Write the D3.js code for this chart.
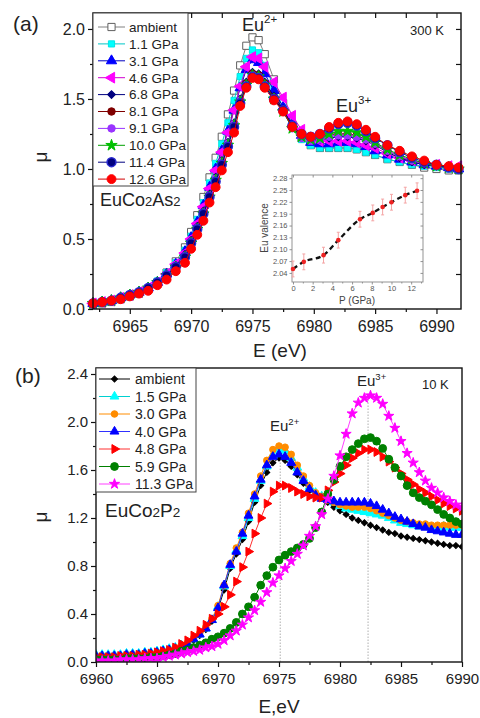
<!DOCTYPE html>
<html><head><meta charset="utf-8">
<script src="https://cdn.jsdelivr.net/npm/d3@7"></script>
<style>body{margin:0;background:#fff}svg{display:block;font-family:Arial,"Liberation Sans",sans-serif}</style>
</head><body><svg id="c" width="480" height="718"></svg>
<script>
// ---------------- Panel (a) data: EuCo2As2, 300 K ----------------
const energyA = [6962,6962.75,6963.5,6964.25,6965,6965.75,6966.5,6967.25,6968,6968.75,6969.5,6970,6970.5,6971,6971.5,6972,6972.5,6973,6973.5,6974,6974.5,6975,6975.5,6976,6976.75,6977.5,6978.25,6979,6979.75,6980.5,6981.25,6982,6982.75,6983.5,6984.25,6985,6986,6987,6988,6989,6990,6991,6991.8];
const muA_amb  = [0.03,0.04,0.05,0.07,0.09,0.11,0.14,0.19,0.26,0.34,0.44,0.55,0.67,0.80,0.94,1.08,1.23,1.39,1.56,1.74,1.88,1.94,1.92,1.82,1.64,1.47,1.32,1.22,1.17,1.15,1.15,1.15,1.15,1.14,1.12,1.10,1.07,1.05,1.03,1.01,1.00,0.99,0.99];
const muA_1p1  = [0.04,0.05,0.06,0.08,0.10,0.12,0.15,0.20,0.26,0.33,0.42,0.52,0.64,0.76,0.90,1.04,1.18,1.33,1.49,1.66,1.79,1.85,1.83,1.74,1.59,1.44,1.30,1.21,1.17,1.15,1.15,1.15,1.15,1.14,1.12,1.10,1.07,1.05,1.03,1.02,1.01,1.00,0.99];
const muA_3p1  = [0.04,0.05,0.06,0.08,0.10,0.12,0.15,0.19,0.25,0.32,0.41,0.51,0.62,0.74,0.87,1.00,1.13,1.27,1.42,1.58,1.71,1.78,1.76,1.68,1.56,1.44,1.32,1.24,1.19,1.18,1.18,1.19,1.19,1.18,1.16,1.13,1.10,1.07,1.05,1.03,1.02,1.01,1.00];
const muA_4p6  = [0.04,0.05,0.06,0.08,0.10,0.12,0.15,0.19,0.25,0.32,0.40,0.50,0.61,0.73,0.86,0.99,1.12,1.26,1.42,1.59,1.73,1.80,1.79,1.73,1.62,1.51,1.38,1.28,1.22,1.20,1.20,1.20,1.20,1.19,1.17,1.15,1.11,1.08,1.06,1.04,1.03,1.02,1.02];
const muA_6p8  = [0.04,0.05,0.06,0.08,0.10,0.12,0.15,0.19,0.24,0.31,0.39,0.49,0.59,0.70,0.82,0.94,1.06,1.19,1.33,1.50,1.62,1.69,1.68,1.62,1.52,1.43,1.30,1.23,1.20,1.21,1.22,1.23,1.23,1.22,1.20,1.17,1.12,1.08,1.05,1.03,1.02,1.01,1.00];
const muA_8p1  = [0.04,0.05,0.06,0.08,0.10,0.12,0.15,0.19,0.24,0.30,0.38,0.48,0.58,0.69,0.81,0.93,1.05,1.18,1.32,1.49,1.61,1.68,1.67,1.61,1.51,1.42,1.30,1.23,1.21,1.22,1.24,1.25,1.25,1.24,1.21,1.18,1.13,1.09,1.06,1.04,1.02,1.01,1.00];
const muA_9p1  = [0.04,0.05,0.06,0.08,0.10,0.12,0.15,0.19,0.24,0.30,0.38,0.48,0.58,0.69,0.81,0.93,1.05,1.18,1.32,1.49,1.60,1.67,1.66,1.60,1.50,1.41,1.29,1.22,1.20,1.21,1.23,1.24,1.24,1.23,1.21,1.18,1.13,1.09,1.06,1.04,1.02,1.01,1.00];
const muA_10p0 = [0.04,0.05,0.06,0.08,0.10,0.12,0.15,0.19,0.24,0.30,0.37,0.47,0.57,0.68,0.80,0.92,1.04,1.17,1.31,1.48,1.60,1.67,1.66,1.60,1.50,1.41,1.29,1.23,1.21,1.22,1.25,1.27,1.27,1.26,1.23,1.19,1.14,1.10,1.07,1.04,1.02,1.01,1.00];
const muA_11p4 = [0.04,0.05,0.06,0.08,0.10,0.12,0.15,0.19,0.24,0.30,0.37,0.47,0.57,0.68,0.80,0.91,1.03,1.16,1.30,1.47,1.59,1.66,1.65,1.59,1.50,1.42,1.31,1.25,1.23,1.25,1.29,1.32,1.33,1.31,1.27,1.22,1.17,1.12,1.08,1.05,1.03,1.01,1.00];
const muA_12p6 = [0.04,0.05,0.06,0.07,0.09,0.11,0.13,0.17,0.21,0.27,0.33,0.43,0.53,0.63,0.76,0.87,0.99,1.12,1.26,1.45,1.58,1.65,1.64,1.58,1.49,1.41,1.30,1.25,1.23,1.25,1.30,1.33,1.34,1.32,1.28,1.23,1.17,1.13,1.09,1.06,1.03,1.02,1.01];
const labelsA = ["ambient","1.1 GPa","3.1 GPa","4.6 GPa","6.8 GPa","8.1 GPa","9.1 GPa","10.0 GPa","11.4 GPa","12.6 GPa"];

// inset: Eu valence vs pressure
const pressure   = [0,1.1,3.1,4.6,6.8,8.1,9.1,10.0,11.4,12.6];
const valence    = [2.050,2.068,2.085,2.123,2.176,2.192,2.207,2.219,2.237,2.248];
const valenceErr = [0.02,0.02,0.02,0.02,0.02,0.02,0.02,0.02,0.02,0.02];

// ---------------- Panel (b) data: EuCo2P2, 10 K ----------------
const energyB = [6960,6960.5,6961,6961.5,6962,6962.5,6963,6963.5,6964,6964.5,6965,6965.5,6966,6966.5,6967,6967.5,6968,6968.5,6969,6969.5,6970,6970.5,6971,6971.5,6972,6972.5,6973,6973.5,6974,6974.5,6975,6975.5,6976,6976.5,6977,6977.5,6978,6978.5,6979,6979.5,6980,6980.5,6981,6981.5,6982,6982.5,6983,6983.5,6984,6984.5,6985,6985.5,6986,6986.5,6987,6987.5,6988,6988.5,6989,6989.5,6990];
const muB_amb  = [0.05,0.05,0.05,0.05,0.05,0.06,0.06,0.06,0.07,0.07, 0.08,0.09,0.10,0.11,0.13,0.15,0.18,0.22,0.27,0.34, 0.44,0.60,0.78,0.90,1.02,1.17,1.33,1.47,1.58,1.66, 1.70,1.68,1.63,1.56,1.49,1.43,1.39,1.37,1.33,1.29, 1.26,1.23,1.20,1.18,1.16,1.14,1.12,1.10,1.08,1.07, 1.05,1.04,1.03,1.02,1.01,1.00,0.99,0.98,0.97,0.97, 0.96];
const muB_1p5  = [0.06,0.06,0.06,0.06,0.06,0.07,0.07,0.07,0.08,0.08, 0.09,0.10,0.11,0.12,0.14,0.16,0.19,0.23,0.28,0.35, 0.46,0.63,0.80,0.93,1.05,1.20,1.36,1.51,1.63,1.72, 1.77,1.76,1.70,1.62,1.53,1.46,1.41,1.38,1.36,1.33, 1.30,1.28,1.27,1.26,1.25,1.24,1.23,1.22,1.20,1.18, 1.16,1.15,1.14,1.13,1.13,1.12,1.12,1.13,1.12,1.12, 1.12];
const muB_3p0  = [0.05,0.05,0.05,0.05,0.05,0.06,0.06,0.06,0.07,0.07, 0.08,0.09,0.10,0.12,0.14,0.16,0.20,0.24,0.29,0.36, 0.47,0.64,0.82,0.95,1.08,1.24,1.40,1.55,1.68,1.77, 1.80,1.79,1.73,1.64,1.55,1.47,1.41,1.38,1.35,1.33, 1.31,1.30,1.29,1.29,1.29,1.28,1.26,1.24,1.22,1.20, 1.18,1.17,1.16,1.15,1.15,1.14,1.14,1.14,1.14,1.14, 1.14];
const muB_4p0  = [0.05,0.05,0.05,0.05,0.05,0.06,0.06,0.06,0.07,0.07, 0.08,0.09,0.10,0.11,0.13,0.15,0.19,0.23,0.28,0.35, 0.45,0.64,0.81,0.92,1.07,1.22,1.38,1.52,1.64,1.71, 1.73,1.71,1.66,1.58,1.51,1.44,1.39,1.36,1.35,1.34, 1.33,1.33,1.33,1.33,1.33,1.32,1.30,1.27,1.24,1.21, 1.19,1.17,1.15,1.13,1.12,1.10,1.09,1.08,1.07,1.06, 1.06];
const muB_4p8  = [0.04,0.04,0.04,0.04,0.05,0.05,0.05,0.06,0.06,0.07, 0.08,0.09,0.10,0.12,0.15,0.18,0.22,0.26,0.31,0.36, 0.40,0.46,0.56,0.67,0.79,0.92,1.07,1.20,1.32,1.42, 1.47,1.47,1.45,1.42,1.40,1.38,1.37,1.37,1.43,1.50, 1.57,1.64,1.70,1.74,1.77,1.77,1.75,1.71,1.67,1.62, 1.57,1.52,1.48,1.44,1.41,1.38,1.35,1.32,1.30,1.28, 1.26];
const muB_5p9  = [0.02,0.02,0.02,0.02,0.02,0.03,0.03,0.03,0.03,0.04, 0.04,0.05,0.06,0.07,0.09,0.10,0.12,0.14,0.16,0.19, 0.21,0.24,0.28,0.33,0.40,0.46,0.54,0.64,0.72,0.79, 0.85,0.89,0.92,0.95,0.98,1.03,1.12,1.25,1.40,1.52, 1.63,1.71,1.77,1.82,1.86,1.87,1.84,1.78,1.69,1.62, 1.55,1.47,1.41,1.37,1.34,1.31,1.27,1.23,1.20,1.17, 1.15];
const muB_11p3 = [0.01,0.01,0.01,0.01,0.02,0.02,0.02,0.02,0.03,0.03, 0.03,0.04,0.05,0.06,0.07,0.08,0.09,0.10,0.12,0.13, 0.15,0.18,0.22,0.26,0.31,0.37,0.43,0.50,0.58,0.66, 0.72,0.78,0.84,0.90,0.97,1.05,1.13,1.23,1.36,1.55, 1.72,1.90,2.07,2.16,2.20,2.22,2.20,2.15,2.05,1.95, 1.84,1.74,1.66,1.58,1.51,1.45,1.41,1.37,1.34,1.31, 1.29];
const labelsB = ["ambient","1.5 GPa","3.0 GPa","4.0 GPa","4.8 GPa","5.9 GPa","11.3 GPa"];
const peakLinesB = [6975.1, 6982.3];

// ---------------- styles ----------------
const stylesA = [
  {shape:"square",   fill:"#ffffff", stroke:"#606060", line:"#808080", size:52, sw:1},
  {shape:"square",   fill:"#00ffff", stroke:"#00e6e6", line:"#00c8c8", size:38, sw:1},
  {shape:"triangle", fill:"#0000ff", stroke:"#0000ff", line:"#0000c0", size:46, sw:1},
  {shape:"triLeft",  fill:"#ff00ff", stroke:"#ff00ff", line:"#d000d0", size:50, sw:1},
  {shape:"diamond",  fill:"#000080", stroke:"#000080", line:"#000080", size:30, sw:1},
  {shape:"circle",   fill:"#800000", stroke:"#800000", line:"#800000", size:44, sw:1},
  {shape:"circle",   fill:"#9933ff", stroke:"#9933ff", line:"#9933ff", size:44, sw:1},
  {shape:"star",     fill:"#00c000", stroke:"#00c000", line:"#00a000", size:40, sw:1},
  {shape:"circle",   fill:"#000080", stroke:"#2a2ad0", line:"#000080", size:62, sw:1.5},
  {shape:"circle",   fill:"#ff0000", stroke:"#ff0000", line:"#d00000", size:62, sw:1}
];
const stylesB = [
  {shape:"diamond",  fill:"#000000", stroke:"#000000", line:"#000000", size:18, sw:1},
  {shape:"triangle", fill:"#00ffff", stroke:"#00ffff", line:"#00d0d0", size:34, sw:1},
  {shape:"circle",   fill:"#ff8c00", stroke:"#ff8c00", line:"#ff8c00", size:34, sw:1},
  {shape:"triangle", fill:"#0000ff", stroke:"#0000ff", line:"#3030ff", size:34, sw:1},
  {shape:"triRight", fill:"#ff0000", stroke:"#ff0000", line:"#ff3030", size:34, sw:1},
  {shape:"circle",   fill:"#008000", stroke:"#008000", line:"#008000", size:48, sw:1},
  {shape:"star",     fill:"#ff00ff", stroke:"#ff00ff", line:"#ff40ff", size:32, sw:1}
];

const seriesA = [muA_amb,muA_1p1,muA_3p1,muA_4p6,muA_6p8,muA_8p1,muA_9p1,muA_10p0,muA_11p4,muA_12p6];
const seriesB = [muB_amb,muB_1p5,muB_3p0,muB_4p0,muB_4p8,muB_5p9,muB_11p3];

const svg = d3.select("#c");

function symPath(shape,size){
  const t = {square:d3.symbolSquare,circle:d3.symbolCircle,triangle:d3.symbolTriangle,
    triLeft:d3.symbolTriangle,triRight:d3.symbolTriangle,diamond:d3.symbolSquare,star:d3.symbolStar}[shape];
  return d3.symbol(t,size)();
}
function rot(shape){return shape==="triLeft"?-90:shape==="triRight"?90:shape==="diamond"?45:0;}
function marker(g,x,y,st){
  g.append("path").attr("d",symPath(st.shape,st.size))
   .attr("transform",`translate(${x},${y}) rotate(${rot(st.shape)})`)
   .attr("fill",st.fill).attr("stroke",st.stroke).attr("stroke-width",st.sw);
}
function drawSeries(g,xs,ys,st,x,y){
  g.append("path").datum(xs.map((e,i)=>[e,ys[i]]))
   .attr("d",d3.line().x(d=>x(d[0])).y(d=>y(d[1])))
   .attr("fill","none").attr("stroke",st.line).attr("stroke-width",1);
  const mg=g.append("g");
  xs.forEach((e,i)=>marker(mg,x(e),y(ys[i]),st));
}
function styleAxis(g,fs){
  g.selectAll("text").attr("font-size",fs).attr("fill","#222").attr("font-family","Arial, 'Liberation Sans', sans-serif");
  g.selectAll("line").attr("stroke","#111").attr("stroke-width",1.2);
  g.select(".domain").remove();
}

// ================= Panel (a) =================
const xA = d3.scaleLinear([6962,6992],[93,461]);
const yA = d3.scaleLinear([0,2.114],[309,13]);
const gA = svg.append("g");

gA.append("g").attr("transform","translate(0,309)")
  .call(d3.axisBottom(xA).tickValues([6965,6970,6975,6980,6985,6990]).tickSize(5).tickPadding(7).tickFormat(d3.format("d")))
  .call(g=>styleAxis(g,16));
gA.append("g").attr("transform","translate(0,309)")
  .call(d3.axisBottom(xA).tickValues([6962.5,6967.5,6972.5,6977.5,6982.5,6987.5]).tickSize(3).tickFormat(""))
  .call(g=>styleAxis(g,16));
gA.append("g").attr("transform","translate(93,0)")
  .call(d3.axisLeft(yA).tickValues([0,0.5,1,1.5,2]).tickSize(5).tickPadding(3).tickFormat(d3.format(".1f")))
  .call(g=>styleAxis(g,16));
gA.append("g").attr("transform","translate(93,0)")
  .call(d3.axisLeft(yA).tickValues([0.25,0.75,1.25,1.75]).tickSize(3).tickFormat(""))
  .call(g=>styleAxis(g,16));
gA.append("g").attr("transform","translate(0,13)")
  .call(d3.axisTop(xA).tickValues([6962.5,6965,6967.5,6970,6972.5,6975,6977.5,6980,6982.5,6985,6987.5,6990]).tickSize(-5).tickFormat(""))
  .call(g=>styleAxis(g,16));
gA.append("g").attr("transform","translate(461,0)")
  .call(d3.axisRight(yA).tickValues([0.25,0.5,0.75,1,1.25,1.5,1.75,2]).tickSize(-5).tickFormat(""))
  .call(g=>styleAxis(g,16));

const dA = gA.append("g");
seriesA.forEach((s,i)=>drawSeries(dA,energyA,s,stylesA[i],xA,yA));

gA.append("rect").attr("x",93).attr("y",13).attr("width",368).attr("height",296)
  .attr("fill","none").attr("stroke","#111").attr("stroke-width",1.4);

// legend (a)
const lgA = gA.append("g");
lgA.append("rect").attr("x",93).attr("y",13).attr("width",95).attr("height",173)
  .attr("fill","#fff").attr("stroke","#444").attr("stroke-width",1);
labelsA.forEach((lab,i)=>{
  const yy = 27 + i*16.9, st = stylesA[i];
  lgA.append("line").attr("x1",98).attr("x2",125).attr("y1",yy).attr("y2",yy).attr("stroke",st.line).attr("stroke-width",1);
  marker(lgA,111.5,yy,st);
  lgA.append("text").attr("x",129).attr("y",yy).attr("dy","0.36em").attr("font-size",13.5).attr("fill","#222").text(lab);
});
const tA = gA.append("text").attr("x",100).attr("y",206).attr("font-size",18).attr("fill","#222");
tA.append("tspan").text("EuCo");
tA.append("tspan").attr("font-size",13).text("2");
tA.append("tspan").text("As");
tA.append("tspan").attr("font-size",13).text("2");

function supLabel(g,x,y,base,sup,fs,sfs){
  const t=g.append("text").attr("x",x).attr("y",y).attr("font-size",fs).attr("fill","#222");
  t.append("tspan").text(base);
  t.append("tspan").attr("font-size",sfs).attr("dy",-fs*0.42).text(sup);
}
supLabel(gA,242,31,"Eu","2+",18,11.5);
supLabel(gA,336,112,"Eu","3+",18,11.5);
gA.append("text").attr("x",410).attr("y",35).attr("font-size",13).attr("fill","#222").text("300 K");
gA.append("text").attr("x",13).attr("y",31).attr("font-size",21).attr("fill","#222").text("(a)");
gA.append("text").attr("transform","translate(47,157) rotate(-90)").attr("text-anchor","middle").attr("font-size",19).attr("fill","#222").text("μ");
gA.append("text").attr("x",280).attr("y",357).attr("text-anchor","middle").attr("font-size",19).attr("fill","#222").text("E (eV)");

// inset
const xI = d3.scaleLinear([-0.1,13.2],[292,423]);
const yI = d3.scaleLinear([2.017,2.288],[282,175]);
const gI = gA.append("g");
gI.append("rect").attr("x",292).attr("y",175).attr("width",131).attr("height",107).attr("fill","#fff");
function styleInset(g){g.selectAll("text").attr("font-size",7.5).attr("fill","#555");g.selectAll("line").attr("stroke","#777").attr("stroke-width",0.8);g.select(".domain").remove();}
gI.append("g").attr("transform","translate(292,0)")
  .call(d3.axisLeft(yI).tickValues([2.04,2.07,2.10,2.13,2.16,2.19,2.22,2.25,2.28]).tickSize(2.5).tickPadding(2).tickFormat(d3.format(".2f"))).call(styleInset);
gI.append("g").attr("transform","translate(423,0)")
  .call(d3.axisRight(yI).tickValues([2.04,2.07,2.10,2.13,2.16,2.19,2.22,2.25,2.28]).tickSize(-2.5).tickFormat("")).call(styleInset);
gI.append("g").attr("transform","translate(0,282)")
  .call(d3.axisBottom(xI).tickValues([0,2,4,6,8,10,12]).tickSize(2.5).tickPadding(1).tickFormat(d3.format("d"))).call(styleInset);
gI.append("g").attr("transform","translate(0,282)")
  .call(d3.axisBottom(xI).tickValues([1,3,5,7,9,11,13]).tickSize(1.5).tickFormat("")).call(styleInset);
gI.append("g").attr("transform","translate(0,175)")
  .call(d3.axisTop(xI).tickValues([0,2,4,6,8,10,12]).tickSize(-2.5).tickFormat("")).call(styleInset);
gI.append("rect").attr("x",292).attr("y",175).attr("width",131).attr("height",107).attr("fill","none").attr("stroke","#888").attr("stroke-width",0.9);
pressure.forEach((p,i)=>{
  const x=xI(p), y1=yI(valence[i]-valenceErr[i]), y2=yI(valence[i]+valenceErr[i]);
  gI.append("line").attr("x1",x).attr("x2",x).attr("y1",y1).attr("y2",y2).attr("stroke","#f4a4a4").attr("stroke-width",1);
  gI.append("line").attr("x1",x-1.5).attr("x2",x+1.5).attr("y1",y1).attr("y2",y1).attr("stroke","#f4a4a4").attr("stroke-width",1);
  gI.append("line").attr("x1",x-1.5).attr("x2",x+1.5).attr("y1",y2).attr("y2",y2).attr("stroke","#f4a4a4").attr("stroke-width",1);
});
gI.append("path").datum(pressure.map((p,i)=>[p,valence[i]]))
  .attr("d",d3.line().curve(d3.curveMonotoneX).x(d=>xI(d[0])).y(d=>yI(d[1])))
  .attr("fill","none").attr("stroke","#111").attr("stroke-width",2.3).attr("stroke-dasharray","5,3.5");
pressure.forEach((p,i)=>gI.append("circle").attr("cx",xI(p)).attr("cy",yI(valence[i])).attr("r",2.3).attr("fill","#ee2222"));
gI.append("text").attr("transform","translate(268,228) rotate(-90)").attr("text-anchor","middle").attr("font-size",10).attr("fill","#444").text("Eu valence");
gI.append("text").attr("x",357).attr("y",304).attr("text-anchor","middle").attr("font-size",10).attr("fill","#444").text("P (GPa)");

// ================= Panel (b) =================
const xB = d3.scaleLinear([6960,6990],[96,462]);
const yB = d3.scaleLinear([0,2.45],[662,368]);
const gB = svg.append("g");

gB.append("g").attr("transform","translate(0,662)")
  .call(d3.axisBottom(xB).tickValues([6960,6965,6970,6975,6980,6985,6990]).tickSize(5).tickPadding(6).tickFormat(d3.format("d")))
  .call(g=>styleAxis(g,15));
gB.append("g").attr("transform","translate(0,662)")
  .call(d3.axisBottom(xB).tickValues([6962.5,6967.5,6972.5,6977.5,6982.5,6987.5]).tickSize(3).tickFormat(""))
  .call(g=>styleAxis(g,15));
gB.append("g").attr("transform","translate(96,0)")
  .call(d3.axisLeft(yB).tickValues([0,0.4,0.8,1.2,1.6,2.0,2.4]).tickSize(5).tickPadding(3).tickFormat(d3.format(".1f")))
  .call(g=>styleAxis(g,15));
gB.append("g").attr("transform","translate(96,0)")
  .call(d3.axisLeft(yB).tickValues([0.2,0.6,1.0,1.4,1.8,2.2]).tickSize(3).tickFormat(""))
  .call(g=>styleAxis(g,15));

svg.append("defs").append("clipPath").attr("id","clipB").append("rect").attr("x",96).attr("y",368).attr("width",366).attr("height",294);
const dB = gB.append("g").attr("clip-path","url(#clipB)");
peakLinesB.forEach((e,i)=>{
  dB.append("line").attr("x1",xB(e)).attr("x2",xB(e)).attr("y1",yB(0)).attr("y2",yB(i===0?1.82:2.25))
    .attr("stroke","#999").attr("stroke-width",0.8).attr("stroke-dasharray","1.5,1.5");
});
seriesB.forEach((s,i)=>drawSeries(dB,energyB,s,stylesB[i],xB,yB));

gB.append("rect").attr("x",96).attr("y",368).attr("width",366).attr("height",294)
  .attr("fill","none").attr("stroke","#111").attr("stroke-width",1.4);

const lgB = gB.append("g");
lgB.append("rect").attr("x",96).attr("y",368).attr("width",100).attr("height",124)
  .attr("fill","#fff").attr("stroke","#444").attr("stroke-width",1);
labelsB.forEach((lab,i)=>{
  const yy = 379 + i*17.5, st = stylesB[i];
  lgB.append("line").attr("x1",99).attr("x2",130).attr("y1",yy).attr("y2",yy).attr("stroke",st.line).attr("stroke-width",1);
  marker(lgB,114.5,yy,st);
  lgB.append("text").attr("x",135).attr("y",yy).attr("dy","0.36em").attr("font-size",14).attr("fill","#222").text(lab);
});
const tB = gB.append("text").attr("x",105).attr("y",517).attr("font-size",19).attr("fill","#222");
tB.append("tspan").text("EuCo");
tB.append("tspan").attr("font-size",13.5).text("2");
tB.append("tspan").text("P");
tB.append("tspan").attr("font-size",13.5).text("2");

supLabel(gB,270,431,"Eu","2+",15,9.5);
supLabel(gB,357,386,"Eu","3+",15,9.5);
gB.append("text").attr("x",422).attr("y",389).attr("font-size",13).attr("fill","#222").text("10 K");
gB.append("text").attr("x",15).attr("y",383).attr("font-size",21).attr("fill","#222").text("(b)");
gB.append("text").attr("transform","translate(47,517) rotate(-90)").attr("text-anchor","middle").attr("font-size",19).attr("fill","#222").text("μ");
gB.append("text").attr("x",279).attr("y",713).attr("text-anchor","middle").attr("font-size",19).attr("fill","#222").text("E,eV");
</script></body></html>
